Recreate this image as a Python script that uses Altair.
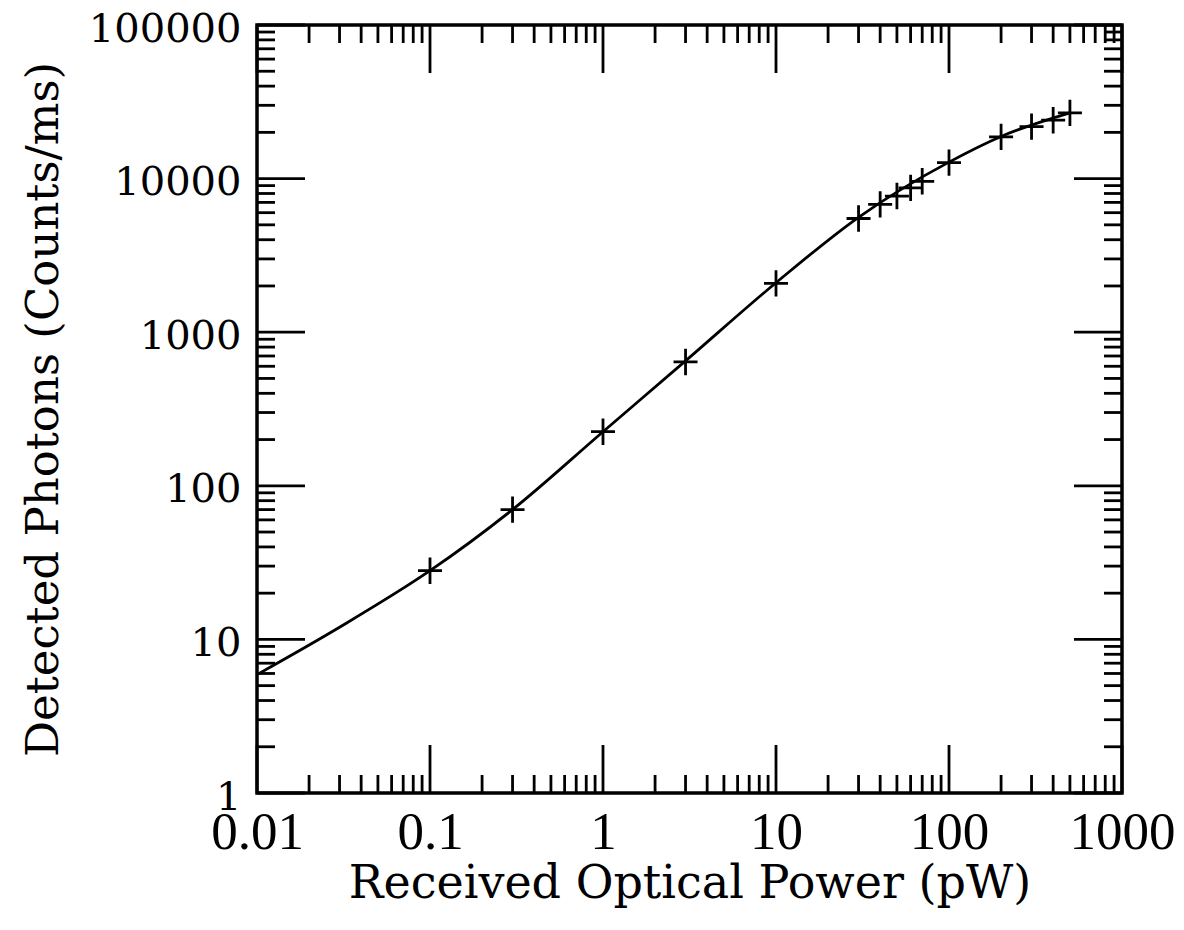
import altair as alt
import pandas as pd

# measured data points (+ markers)
power_pts = [0.1, 0.3, 1, 3, 10, 30, 40, 50, 60, 70, 100, 200, 300, 400, 500]
counts_pts = [28, 70, 225, 640, 2080, 5500, 6800, 7700, 8700, 9600, 12700, 18700, 21800, 24000, 26800]

# fitted curve
power_fit = [0.01, 0.03, 0.1, 0.3, 1, 3, 10, 30, 100, 200, 500]
counts_fit = [5.9, 12, 28, 70, 225, 650, 2100, 5600, 12800, 18800, 26800]

x_major = [0.01, 0.1, 1, 10, 100, 1000]
y_major = [1, 10, 100, 1000, 10000, 100000]
x_minor = [m * d for d in [0.01, 0.1, 1, 10, 100] for m in range(2, 10)]
y_minor = [m * d for d in [1, 10, 100, 1000, 10000] for m in range(2, 10)]

W, H = 865, 768
MAJ, MIN = 48, 18
SW = 2.8

xscale = alt.Scale(type="log", domain=[0.01, 1000], nice=False)
yscale = alt.Scale(type="log", domain=[1, 100000], nice=False)

fit_df = pd.DataFrame({"x": power_fit, "y": counts_fit})
pts_df = pd.DataFrame({"x": power_pts, "y": counts_pts})

xaxis = alt.Axis(values=x_major, format="~g", ticks=False, domain=False, grid=False,
                 labelFont="Liberation Serif", labelFontSize=53, labelColor="black",
                 labelPadding=13, labelFlush=False, labelOverlap=False,
                 title="Received Optical Power (pW)", titleFont="DejaVu Serif",
                 titleFontSize=46, titleFontWeight="normal", titleColor="black",
                 titlePadding=2)
yaxis = alt.Axis(values=y_major, format="~g", ticks=False, domain=False, grid=False,
                 labelFont="DejaVu Serif", labelFontSize=40, labelColor="black",
                 labelPadding=16, labelOffset=4, labelFlush=False, labelOverlap=False,
                 title="Detected Photons (Counts/ms)", titleFont="DejaVu Serif",
                 titleFontSize=45, titleFontWeight="normal", titleColor="black",
                 titlePadding=22)


def X(field):
    return alt.X(field, scale=xscale, axis=xaxis)


def Y(field):
    return alt.Y(field, scale=yscale, axis=yaxis)


line = alt.Chart(fit_df).mark_line(color="black", strokeWidth=SW, interpolate="monotone").encode(
    x=X("x:Q"), y=Y("y:Q"))

cross = "M-1,0L1,0M0,-1.1L0,1.1"
points = alt.Chart(pts_df).mark_point(shape=cross, size=576, color="black", strokeWidth=SW,
                                      filled=False, opacity=1).encode(
    x=X("x:Q"), y=Y("y:Q"))


def xticks(vals, length):
    df = pd.DataFrame({"x": vals})
    base = alt.Chart(df).mark_rule(color="black", strokeWidth=SW)
    bottom = base.encode(x=X("x:Q"), y=alt.value(H), y2=alt.value(H - length))
    top = base.encode(x=X("x:Q"), y=alt.value(0), y2=alt.value(length))
    return [bottom, top]


def yticks(vals, length):
    df = pd.DataFrame({"y": vals})
    base = alt.Chart(df).mark_rule(color="black", strokeWidth=SW)
    left = base.encode(y=Y("y:Q"), x=alt.value(0), x2=alt.value(length))
    right = base.encode(y=Y("y:Q"), x=alt.value(W), x2=alt.value(W - length))
    return [left, right]


layers = [line, points] + xticks(x_minor, MIN) + xticks(x_major, MAJ) + yticks(y_minor, MIN) + yticks(y_major, MAJ)

chart = alt.layer(*layers).properties(
    width=W, height=H,
    autosize=alt.AutoSizeParams(type="none"),
    padding={"left": 249, "top": 17, "right": 54, "bottom": 129},
    background="white",
).configure_view(stroke="black", strokeWidth=3.5)

chart.save("out.html", embed_options={"renderer": "svg", "actions": False})
